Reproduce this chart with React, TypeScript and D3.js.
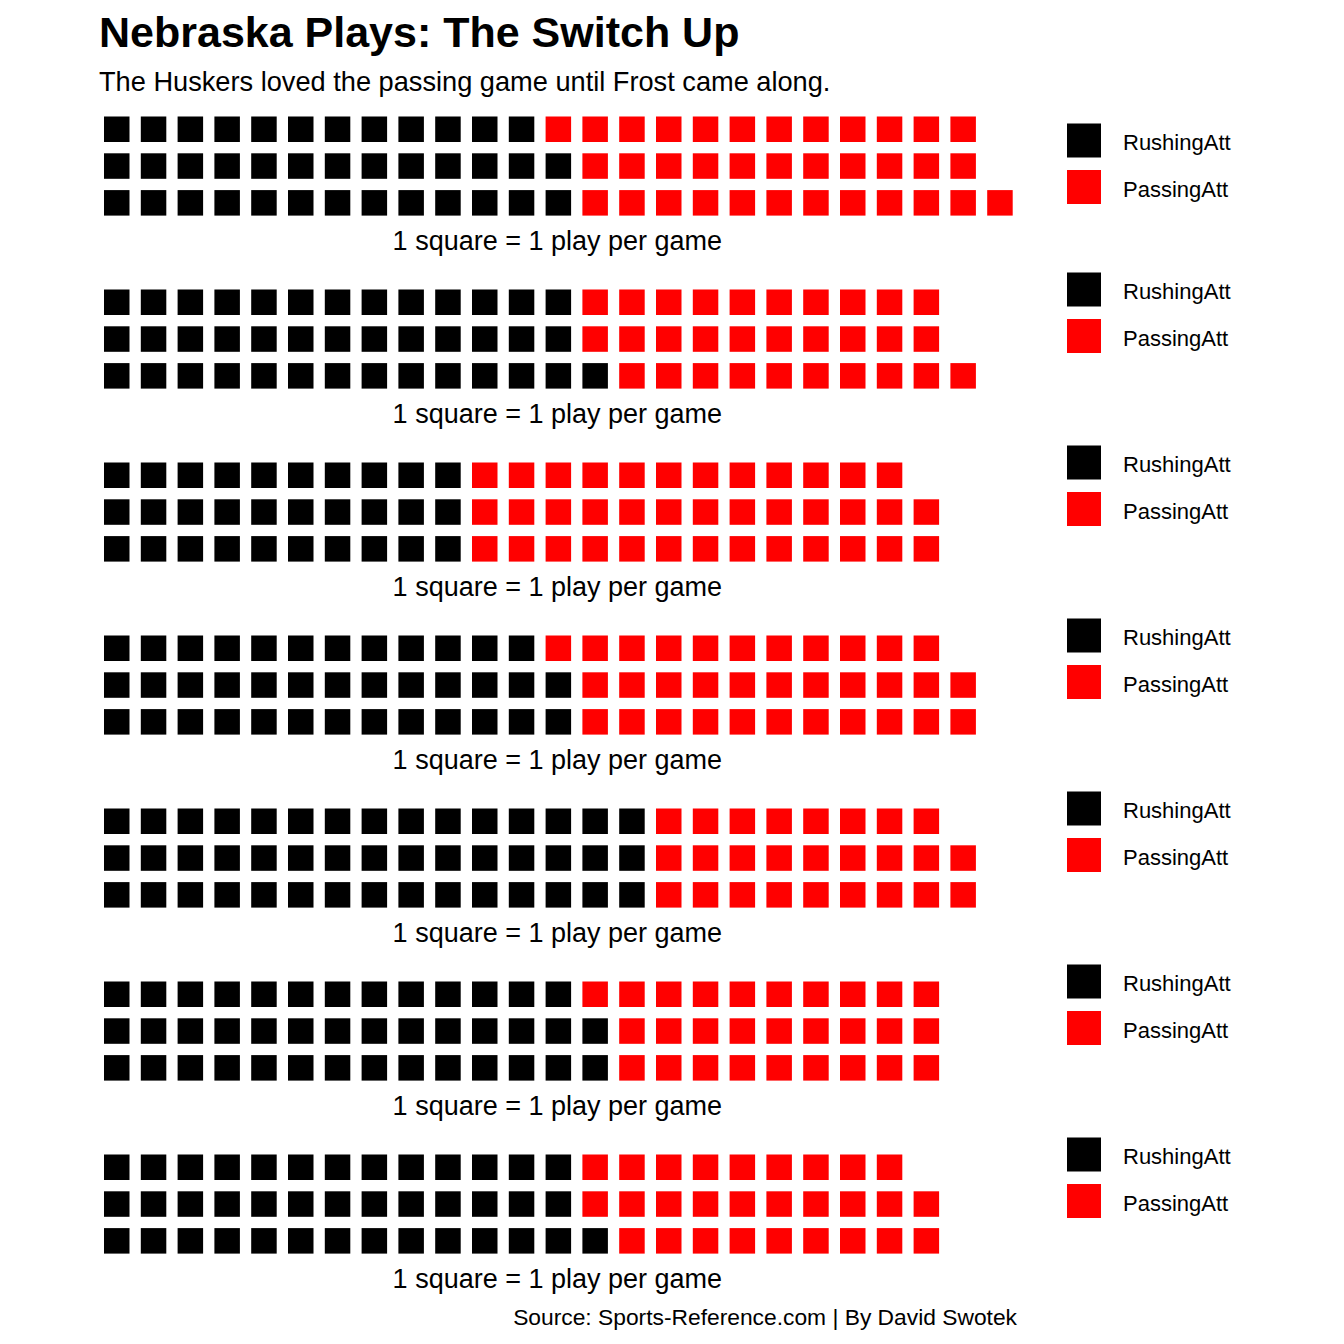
import * as d3 from 'd3'
import { useEffect, useRef } from 'react'

// plays per game, one panel per season (top to bottom)
const rushingAtt = [38, 40, 30, 38, 45, 41, 40]
const passingAtt = [35, 30, 38, 33, 26, 28, 28]
const categories = ['RushingAtt', 'PassingAtt']
const colors = ['#000000', '#ff0000']

const title = 'Nebraska Plays: The Switch Up'
const subtitle = 'The Huskers loved the passing game until Frost came along.'
const caption = '1 square = 1 play per game'
const source = 'Source: Sports-Reference.com | By David Swotek'

const FONT = '"Liberation Sans", Arial, sans-serif'
const ROWS = 3

const drawChart = (el: SVGSVGElement) => {
    const svg = d3.select(el)
    svg.selectAll('*').remove()

    const cell = 25.5
    const step = 36.8
    const panelTop = 116.5
    const panelStep = 173
    const maxCols = 25

    const x = d3.scaleLinear().domain([0, maxCols - 1]).range([104, 104 + (maxCols - 1) * step])
    const y = d3.scaleLinear().domain([0, ROWS - 1]).range([0, (ROWS - 1) * step])
    const color = d3.scaleOrdinal<string, string>().domain(categories).range(colors)

    svg.append('text')
        .attr('x', 99)
        .attr('y', 47)
        .attr('font-family', FONT)
        .attr('font-weight', 'bold')
        .attr('font-size', 43)
        .text(title)

    svg.append('text')
        .attr('x', 99)
        .attr('y', 91)
        .attr('font-family', FONT)
        .attr('font-size', 27.2)
        .text(subtitle)

    rushingAtt.forEach((rush, p) => {
        const top = panelTop + p * panelStep
        const g = svg.append('g').attr('transform', `translate(0,${top})`)

        // waffle cells: fill column by column, bottom row first
        const cells: { cat: string, i: number }[] = []
        for (let i = 0; i < rush; i++) cells.push({ cat: categories[0], i })
        for (let i = 0; i < passingAtt[p]; i++) cells.push({ cat: categories[1], i: rush + i })

        g.selectAll('rect.cell')
            .data(cells)
            .enter()
            .append('rect')
            .attr('class', 'cell')
            .attr('x', d => x(Math.floor(d.i / ROWS)))
            .attr('y', d => y(ROWS - 1 - (d.i % ROWS)))
            .attr('width', cell)
            .attr('height', cell)
            .attr('fill', d => color(d.cat))

        g.append('text')
            .attr('x', (x(0) + x(maxCols - 1) + cell) / 2 - 1)
            .attr('y', 133)
            .attr('text-anchor', 'middle')
            .attr('font-family', FONT)
            .attr('font-size', 27)
            .text(caption)

        // legend
        const legTop = p === 0 ? 7 : -17
        const leg = g.append('g').attr('transform', `translate(1067,${legTop})`)
        categories.forEach((c, k) => {
            leg.append('rect')
                .attr('x', 0)
                .attr('y', k * 46.5)
                .attr('width', 34)
                .attr('height', 34)
                .attr('fill', color(c))
            leg.append('text')
                .attr('x', 56)
                .attr('y', k * 46.5 + 19)
                .attr('dy', '0.35em')
                .attr('font-family', FONT)
                .attr('font-size', 22)
                .text(c)
        })
    })

    svg.append('text')
        .attr('x', 1017)
        .attr('y', 1325)
        .attr('text-anchor', 'end')
        .attr('font-family', FONT)
        .attr('font-size', 22.8)
        .text(source)
}

const App = () => {
    const ref = useRef<SVGSVGElement>(null)

    useEffect(() => {
        if (ref.current) drawChart(ref.current)
    }, [])

    return (
        <svg
            ref={ref}
            width={1344}
            height={1344}
            style={{ position: 'absolute', left: 0, top: 0, background: '#fff' }}
        />
    )
}

export default App
